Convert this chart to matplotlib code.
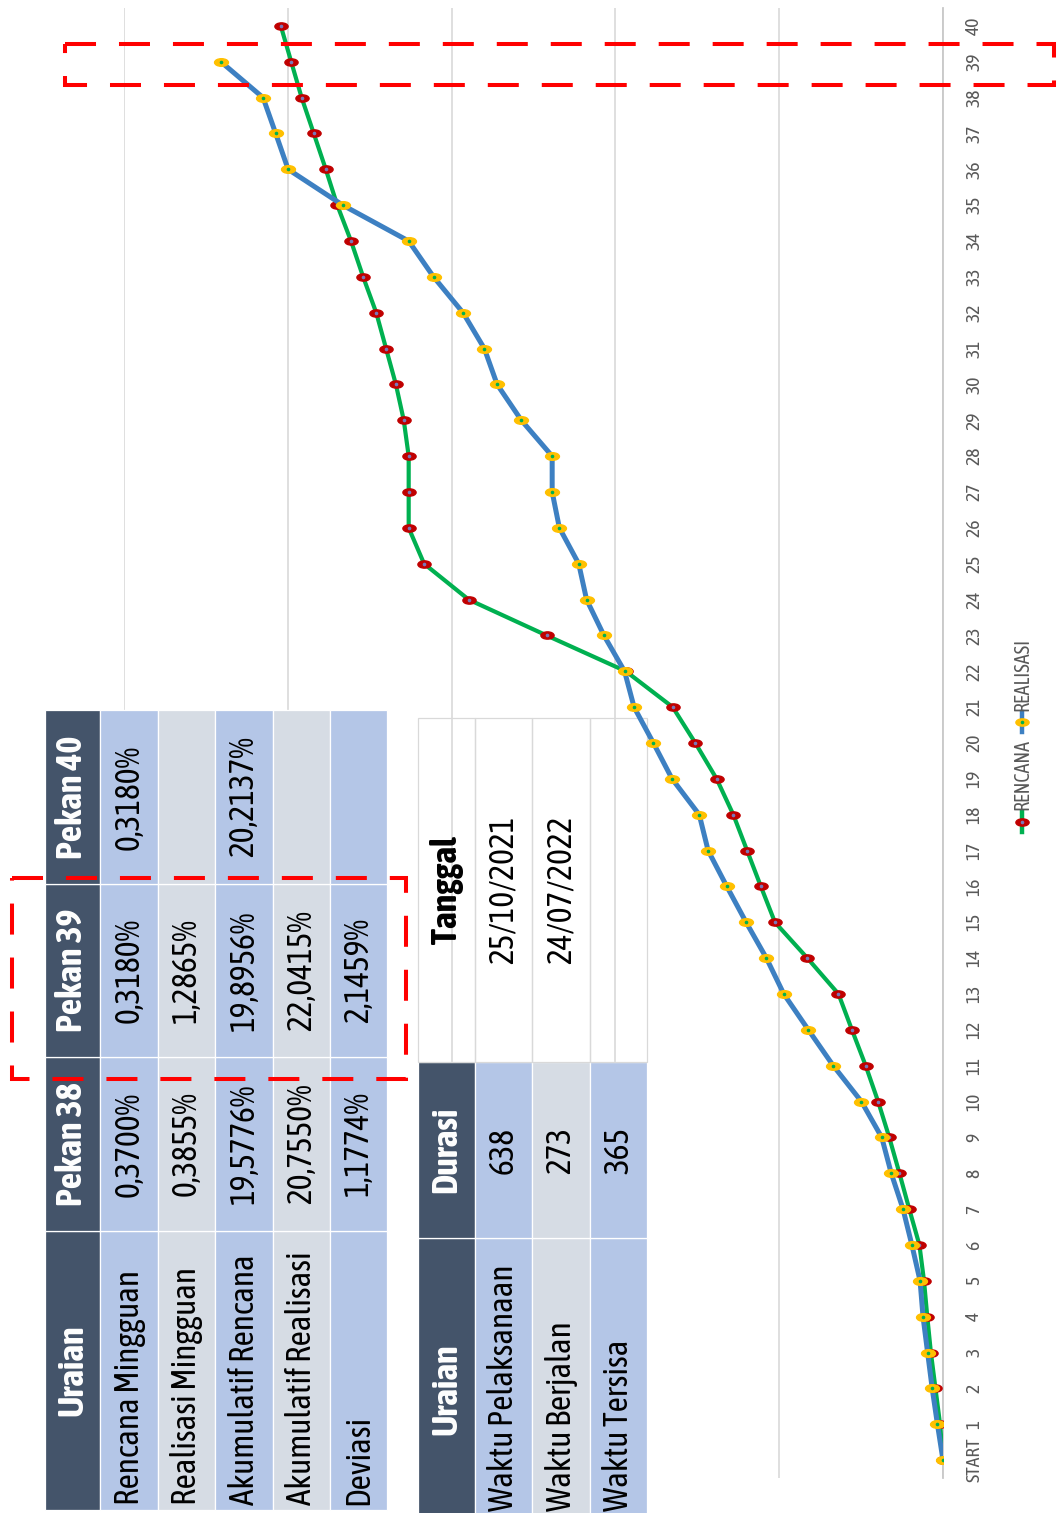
import matplotlib.pyplot as plt
import matplotlib.transforms as mtransforms
from matplotlib.path import Path
from matplotlib.patches import Rectangle
from matplotlib.lines import Line2D

plt.rcParams['font.family'] = ['Asap Condensed', 'DejaVu Sans']

# ---- data ----
week_labels = ['START'] + [str(i) for i in range(1, 41)]

rencana = [0.00, 0.09, 0.23, 0.37, 0.48, 0.58, 0.72, 1.03, 1.33, 1.64,
           1.98, 2.36, 2.78, 3.19, 4.14, 5.13, 5.56, 5.98, 6.40, 6.91,
           7.56, 8.25, 9.68, 12.10, 14.48, 15.84, 16.31, 16.31, 16.31, 16.46,
           16.70, 17.00, 17.30, 17.70, 18.07, 18.49, 18.84, 19.2076, 19.5776, 19.8956,
           20.2137]

realisasi = [0.00, 0.17, 0.33, 0.47, 0.61, 0.70, 0.95, 1.22, 1.58, 1.87,
             2.49, 3.35, 4.11, 4.86, 5.39, 6.01, 6.60, 7.17, 7.44, 8.27,
             8.84, 9.43, 9.72, 10.35, 10.88, 11.12, 11.71, 11.93, 11.93, 12.87,
             13.61, 14.00, 14.65, 15.55, 16.31, 18.32, 19.99, 20.3695, 20.7550, 22.0415]

uraian1 = ['Rencana Mingguan', 'Realisasi Mingguan', 'Akumulatif Rencana',
           'Akumulatif Realisasi', 'Deviasi']
pekan_headers = ['Pekan 38', 'Pekan 39', 'Pekan 40']
pekan38 = ['0,3700%', '0,3855%', '19,5776%', '20,7550%', '1,1774%']
pekan39 = ['0,3180%', '1,2865%', '19,8956%', '22,0415%', '2,1459%']
pekan40 = ['0,3180%', '', '20,2137%', '', '']

uraian2 = ['Waktu Pelaksanaan', 'Waktu Berjalan', 'Waktu Tersisa']
durasi = ['638', '273', '365']
tanggal = ['25/10/2021', '24/07/2022', '']

# ---- colours ----
GREEN = '#00B050'
BLUE = '#3D80C2'
RED = '#C00000'
GOLD = '#FFC000'
DARK = '#44546A'
CELL_BLUE = '#B4C6E7'
CELL_GRAY = '#D6DCE4'
GRID = '#D9D9D9'

W, H = 1057, 1513
fig = plt.figure(figsize=(W / 100, H / 100), dpi=100)
ax = fig.add_axes([124 / W, 1 - 1478 / H, (943 - 124) / W, (1478 - 8) / H])
# pixel coordinates measured from the top-left corner of the picture
px = mtransforms.Affine2D().scale(1 / W, -1 / H).translate(0, 1) + fig.transFigure

# flat ellipse marker
circ = Path.unit_circle()
ellipse = Path(circ.vertices * [1, 0.55], circ.codes)

weeks_r = list(range(len(rencana)))
weeks_a = list(range(len(realisasi)))

ax.plot(rencana, weeks_r, color=GREEN, lw=3.0, zorder=3,
        solid_joinstyle='round', solid_capstyle='round')
ax.plot(rencana, weeks_r, ls='none', marker=ellipse, ms=9.5,
        mfc=RED, mec=RED, zorder=4)
ax.plot(rencana, weeks_r, ls='none', marker='o', ms=1.6,
        mfc='#7A78B8', mec='#7A78B8', zorder=4.1)

ax.plot(realisasi, weeks_a, color=BLUE, lw=3.6, zorder=5,
        solid_joinstyle='round', solid_capstyle='round')
ax.plot(realisasi, weeks_a, ls='none', marker=ellipse, ms=10,
        mfc=GOLD, mec=GOLD, zorder=6)
ax.plot(realisasi, weeks_a, ls='none', marker='o', ms=1.6,
        mfc=GREEN, mec=GREEN, zorder=6.1)

ax.set_xlim(25, 0)
ax.set_ylim(-0.5, 40.5)
ax.set_xticks([0, 5, 10, 15, 20, 25])
ax.set_xticklabels([])
ax.xaxis.grid(True, color=GRID, lw=1.2)
ax.set_axisbelow(True)
ax.tick_params(axis='x', length=0)
ax.yaxis.tick_right()
ax.set_yticks(range(41))
ax.set_yticklabels(week_labels, rotation=90, ha='left', va='center',
                   fontsize=14, color='#595959')
ax.tick_params(axis='y', length=0, pad=16)
for s in ['left', 'top', 'bottom']:
    ax.spines[s].set_visible(False)
ax.spines['right'].set_color('#C8C8C8')
ax.spines['right'].set_linewidth(1.3)
ax.patch.set_visible(False)


def cell(x0, x1, y0, y1, fc, ec='white'):
    r = Rectangle((x0, y0), x1 - x0, y1 - y0, transform=px, clip_on=False,
                  fc=fc if fc else 'none', fill=fc is not None, ec=ec, lw=0.9, zorder=1)
    ax.add_patch(r)


def label(x, y, s, size=24, color='black', bold=False, va='center'):
    ax.text(x, y, s, transform=px, rotation=90, ha='center', va=va,
            fontsize=size, color=color, fontweight='bold' if bold else 'normal',
            clip_on=False, zorder=2)


# ---- table 1 ----
t1_x = [45, 100, 158, 215, 273, 330, 387]
t1_cols = [(1231, 1510), (1057, 1231), (884, 1057), (710, 884)]
row_fill = [CELL_BLUE, CELL_GRAY, CELL_BLUE, CELL_GRAY, CELL_BLUE]
columns1 = [uraian1, pekan38, pekan39, pekan40]
headers1 = ['Uraian'] + pekan_headers
for c, (y0, y1) in enumerate(t1_cols):
    cell(t1_x[0], t1_x[1], y0, y1, DARK)
    label((t1_x[0] + t1_x[1]) / 2, (y0 + y1) / 2, headers1[c], size=26,
          color='white', bold=True)
    for r in range(5):
        xa, xb = t1_x[r + 1], t1_x[r + 2]
        cell(xa, xb, y0, y1, row_fill[r])
        if c == 0:
            label((xa + xb) / 2, y1 - 5, columns1[c][r], va='bottom')
        elif columns1[c][r]:
            label((xa + xb) / 2, (y0 + y1) / 2, columns1[c][r])

# ---- table 2 ----
t2_x = [418, 475, 532, 590, 647]
t2_cols = [(1238, 1540), (1062, 1238), (718, 1062)]
columns2 = [uraian2, durasi, tanggal]
headers2 = ['Uraian', 'Durasi', 'Tanggal']
for c, (y0, y1) in enumerate(t2_cols):
    white = c == 2
    cell(t2_x[0], t2_x[1], y0, y1, None if white else DARK,
         ec=GRID if white else 'white')
    label((t2_x[0] + t2_x[1]) / 2, (y0 + y1) / 2, headers2[c], size=26,
          color='black' if white else 'white', bold=True)
    for r in range(3):
        xa, xb = t2_x[r + 1], t2_x[r + 2]
        cell(xa, xb, y0, y1, None if white else row_fill[r],
             ec=GRID if white else 'white')
        if c == 0:
            label((xa + xb) / 2, 1511, columns2[c][r], va='bottom')
        elif columns2[c][r]:
            label((xa + xb) / 2, (y0 + y1) / 2, columns2[c][r])

# ---- legend ----
for yc, line_c, mk_c, dot_c, name, ytxt in [
        (822, GREEN, RED, '#7A78B8', 'RENCANA', 810),
        (722, BLUE, GOLD, GREEN, 'REALISASI', 711)]:
    ax.add_line(Line2D([1022, 1022], [yc - 10, yc + 10], transform=px,
                       color=line_c, lw=3.2, clip_on=False, zorder=3))
    ax.add_line(Line2D([1022], [yc], transform=px, ls='none', marker=ellipse,
                       ms=9.5, mfc=mk_c, mec=mk_c, clip_on=False, zorder=4))
    ax.add_line(Line2D([1022], [yc], transform=px, ls='none', marker='o',
                       ms=1.6, mfc=dot_c, mec=dot_c, clip_on=False, zorder=4.1))
    ax.text(1022, ytxt, name, transform=px, rotation=90, ha='center', va='bottom',
            fontsize=14.5, color='#595959', clip_on=False)

# ---- red dashed highlight boxes ----
for (x0, y0, x1, y1) in [(65, 44, 1054, 85), (12, 878, 406, 1079)]:
    ax.add_patch(Rectangle((x0, y0), x1 - x0, y1 - y0, transform=px, fill=False,
                           ec='#FF0000', lw=2.9, ls=(0, (7.7, 5.7)),
                           clip_on=False, zorder=10))

ax.set_xlim(25, 0)
ax.set_ylim(-0.5, 40.5)

plt.savefig('out.png', dpi=100)
